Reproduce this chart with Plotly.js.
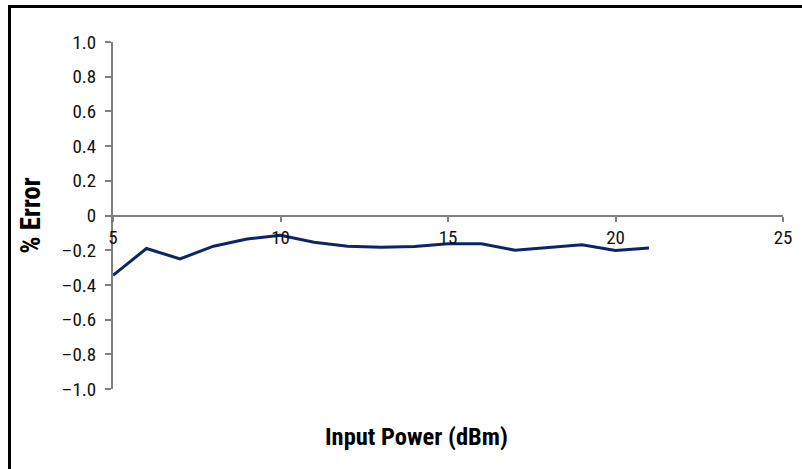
<!DOCTYPE html>
<html>
<head>
<meta charset="utf-8">
<script src="https://cdn.plot.ly/plotly-3.0.1.min.js"></script>
<style>
  html, body { margin: 0; padding: 0; background: #fff; }
  #wrap { position: relative; width: 802px; height: 469px; overflow: hidden; }
  #chart { position: absolute; left: 0; top: 0; width: 802px; height: 469px; }
  #frame { position: absolute; left: 8px; top: 5px; width: 800px; height: 470px;
           border-left: 3px solid #000; border-top: 3px solid #000; pointer-events: none; }
</style>
</head>
<body>
<div id="wrap">
  <div id="chart"></div>
  <div id="frame"></div>
</div>
<script>
// Data
const inputPower = [5, 6, 7, 8, 9, 10, 11, 12, 13, 14, 15, 16, 17, 18, 19, 20, 21];
const percentError = [-0.345, -0.19, -0.25, -0.177, -0.135, -0.114, -0.154, -0.177, -0.183, -0.179, -0.163, -0.163, -0.2, -0.183, -0.169, -0.202, -0.187];

const xTickVals = [5, 10, 15, 20, 25];
const xTickText = ['5', '10', '15', '20', '25'];
const yTickVals = [-1.0, -0.8, -0.6, -0.4, -0.2, 0, 0.2, 0.4, 0.6, 0.8, 1.0];
const yTickText = ['\u20131.0', '\u20130.8', '\u20130.6', '\u20130.4', '\u20130.2', '0', '0.2', '0.4', '0.6', '0.8', '1.0'];

const FONT = '"Liberation Sans Narrow", "Arial Narrow", "Roboto Condensed", "Liberation Sans", sans-serif';

const trace = {
  x: inputPower,
  y: percentError,
  type: 'scatter',
  mode: 'lines',
  line: { color: '#0b2566', width: 3 },
  hoverinfo: 'x+y'
};

const layout = {
  width: 802,
  height: 469,
  margin: { l: 113, r: 19, t: 42, b: 80 },
  paper_bgcolor: '#ffffff',
  plot_bgcolor: '#ffffff',
  showlegend: false,
  font: { family: FONT, size: 18, color: '#111' },
  xaxis: {
    range: [5, 25],
    tickvals: xTickVals,
    ticktext: xTickText,
    anchor: 'free',
    position: 0.5,
    showline: true,
    linecolor: '#808080',
    linewidth: 2,
    ticks: 'outside',
    ticklen: 5,
    tickwidth: 2,
    tickcolor: '#808080',
    showgrid: false,
    zeroline: false,
    tickfont: { family: FONT, size: 19, color: '#111' }
  },
  yaxis: {
    range: [-1.0, 1.0],
    tickvals: yTickVals,
    ticktext: yTickText,
    showline: true,
    linecolor: '#808080',
    linewidth: 2,
    ticks: 'outside',
    ticklen: 6,
    tickwidth: 2,
    tickcolor: '#808080',
    showgrid: false,
    zeroline: false,
    ticklabelstandoff: 5,
    tickfont: { family: FONT, size: 19, color: '#111' },
    title: { text: '% Error', font: { family: FONT, size: 27, color: '#000', weight: 'bold' }, standoff: 13 }
  },
  annotations: [{
    xref: 'paper', yref: 'paper',
    x: 0.4537, y: -0.138,
    xanchor: 'center', yanchor: 'middle',
    text: '<b>Input Power (dBm)</b>',
    showarrow: false,
    font: { family: FONT, size: 24.5, color: '#000' }
  }]
};

Plotly.newPlot('chart', [trace], layout, { staticPlot: true, displayModeBar: false });
</script>
</body>
</html>
